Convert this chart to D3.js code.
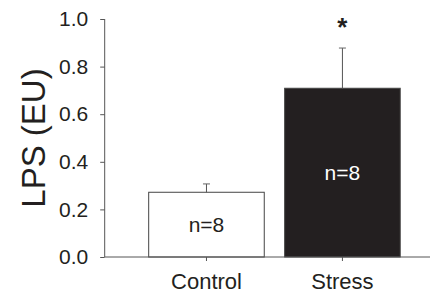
<!DOCTYPE html>
<html>
<head>
<meta charset="utf-8">
<script src="https://cdn.jsdelivr.net/npm/d3@7"></script>
<style>
html,body{margin:0;padding:0;background:#fff;}
svg{display:block;font-family:"Liberation Sans",Arial,sans-serif;}
</style>
</head>
<body>
<svg id="chart" width="430" height="294"></svg>
<script>
const categories = ["Control", "Stress"];
const means = [0.272, 0.709];
const errors = [0.035, 0.169];
const nLabels = ["n=8", "n=8"];
const significance = ["", "*"];
const yTicks = [0.0, 0.2, 0.4, 0.6, 0.8, 1.0];
const yTitle = "LPS (EU)";

const svg = d3.select("#chart");
const axisLeftX = 104.7, axisRightX = 430;
const y = d3.scaleLinear().domain([0, 1]).range([257, 19]);
const x = d3.scaleBand().domain(categories)
  .range([107.9, 441]).paddingInner(0.15).paddingOuter(0.3);

const axisColor = "#555";
const fills = ["#ffffff", "#231f20"];
const labelColors = ["#231f20", "#ffffff"];

// bars
svg.selectAll("rect.bar").data(categories).enter().append("rect")
  .attr("class", "bar")
  .attr("x", d => x(d))
  .attr("width", x.bandwidth())
  .attr("y", (d, i) => y(means[i]))
  .attr("height", (d, i) => y(0) - y(means[i]))
  .attr("fill", (d, i) => fills[i])
  .attr("stroke", "#444")
  .attr("stroke-width", 1);

// error bars (upper only)
const eb = svg.selectAll("g.err").data(categories).enter().append("g").attr("class", "err");
eb.append("line")
  .attr("x1", d => x(d) + x.bandwidth() / 2)
  .attr("x2", d => x(d) + x.bandwidth() / 2)
  .attr("y1", (d, i) => y(means[i]))
  .attr("y2", (d, i) => y(means[i] + errors[i]))
  .attr("stroke", "#555").attr("stroke-width", 1);
eb.append("line")
  .attr("x1", d => x(d) + x.bandwidth() / 2 - 3.5)
  .attr("x2", d => x(d) + x.bandwidth() / 2 + 3.5)
  .attr("y1", (d, i) => y(means[i] + errors[i]))
  .attr("y2", (d, i) => y(means[i] + errors[i]))
  .attr("stroke", "#666").attr("stroke-width", 1);

// n labels
svg.selectAll("text.n").data(categories).enter().append("text")
  .attr("class", "n")
  .attr("x", d => x(d) + x.bandwidth() / 2)
  .attr("y", (d, i) => (y(means[i]) + y(0)) / 2)
  .attr("dy", "0.35em")
  .attr("text-anchor", "middle")
  .attr("font-size", 21)
  .attr("fill", (d, i) => labelColors[i])
  .text((d, i) => nLabels[i]);

// significance
svg.selectAll("text.sig").data(categories).enter().append("text")
  .attr("class", "sig")
  .attr("x", d => x(d) + x.bandwidth() / 2)
  .attr("y", 36)
  .attr("text-anchor", "middle")
  .attr("font-size", 26)
  .attr("font-weight", "bold")
  .attr("fill", "#231f20")
  .text((d, i) => significance[i]);

// y axis
const yAxis = svg.append("g")
  .attr("transform", `translate(${axisLeftX},0)`)
  .call(d3.axisLeft(y).tickValues(yTicks).tickFormat(d3.format(".1f")).tickSize(4.5).tickPadding(12));
yAxis.select(".domain").remove();
yAxis.selectAll(".tick line").attr("stroke", axisColor);
yAxis.selectAll(".tick text").attr("font-size", 21).attr("fill", "#231f20")
  .attr("font-family", "Liberation Sans, Arial, sans-serif");
svg.append("line")
  .attr("x1", axisLeftX).attr("x2", axisLeftX)
  .attr("y1", y(1)).attr("y2", y(0))
  .attr("stroke", axisColor).attr("stroke-width", 1);

// x axis
const xAxis = svg.append("g")
  .attr("transform", `translate(0,${y(0)})`)
  .call(d3.axisBottom(x).tickSize(4).tickPadding(12));
xAxis.select(".domain").remove();
xAxis.selectAll(".tick line").attr("stroke", axisColor);
xAxis.selectAll(".tick text").attr("font-size", 22).attr("fill", "#231f20")
  .attr("font-family", "Liberation Sans, Arial, sans-serif");
svg.append("line")
  .attr("x1", axisLeftX).attr("x2", axisRightX)
  .attr("y1", y(0)).attr("y2", y(0))
  .attr("stroke", axisColor).attr("stroke-width", 1);

// y title
svg.append("text")
  .attr("transform", `translate(33,138) rotate(-90)`)
  .attr("text-anchor", "middle")
  .attr("dy", "0.35em")
  .attr("font-size", 33)
  .attr("fill", "#231f20")
  .text(yTitle);
</script>
</body>
</html>
